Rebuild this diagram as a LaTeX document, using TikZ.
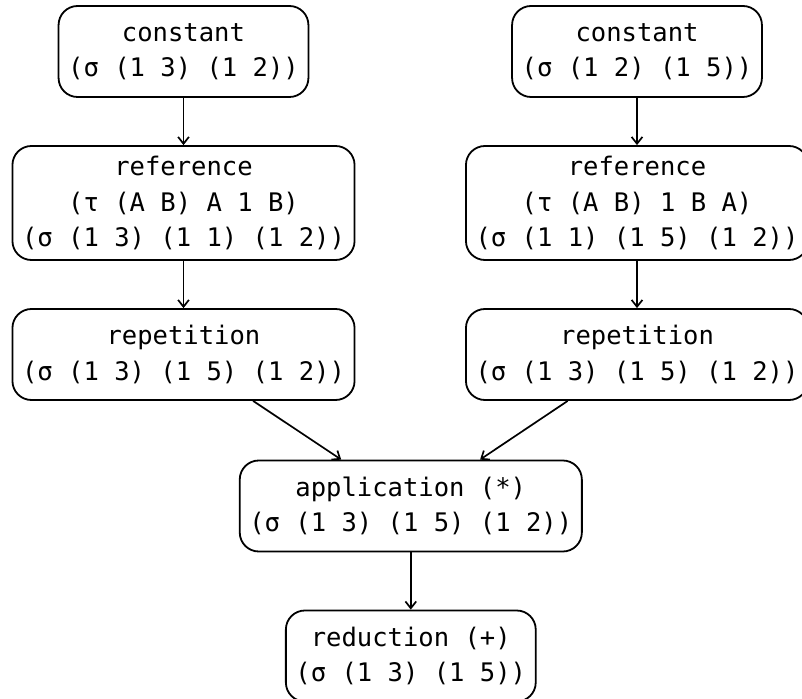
\documentclass[tikz,border=0pt]{standalone}
\usepackage{fontspec}
\setmainfont{DejaVu Sans Mono}
\usetikzlibrary{arrows.meta}
\begin{document}
\begin{tikzpicture}[x=0.5pt,y=-0.5pt,
  stage/.style={draw, line width=0.9pt, rounded corners=9.5pt, align=center,
    inner xsep=4.8pt, inner ysep=2pt, minimum height=45.5pt,
    font=\fontsize{12.77}{17.75}\selectfont},
  tall/.style={minimum height=57pt},
  flow/.style={-{Straight Barb[length=3.4pt,width=5.4pt,line width=0.85pt]}, line width=0.85pt}]
\useasboundingbox (0,0) rectangle (802,699);
% left branch
\node[stage] (c1) at (183.5,51.5) {constant\\(σ (1 3) (1 2))};
\node[stage,tall] (r1) at (183.5,203) {reference\\(τ (A B) A 1 B)\\(σ (1 3) (1 1) (1 2))};
\node[stage] (p1) at (183.5,354.5) {repetition\\(σ (1 3) (1 5) (1 2))};
% right branch
\node[stage] (c2) at (637,51.5) {constant\\(σ (1 2) (1 5))};
\node[stage,tall] (r2) at (637,203) {reference\\(τ (A B) 1 B A)\\(σ (1 1) (1 5) (1 2))};
\node[stage] (p2) at (637,354.5) {repetition\\(σ (1 3) (1 5) (1 2))};
% merge
\node[stage] (app) at (410.8,506) {application (*)\\(σ (1 3) (1 5) (1 2))};
\node[stage] (red) at (410.8,656) {reduction (+)\\(σ (1 3) (1 5))};
% connectors
\draw[flow] (c1) -- (r1);
\draw[flow] (r1) -- (p1);
\draw[flow] (c2) -- (r2);
\draw[flow] (r2) -- (p2);
\draw[flow] (p1) -- (app);
\draw[flow] (p2) -- (app);
\draw[flow] (app) -- (red);
\end{tikzpicture}
\end{document}
